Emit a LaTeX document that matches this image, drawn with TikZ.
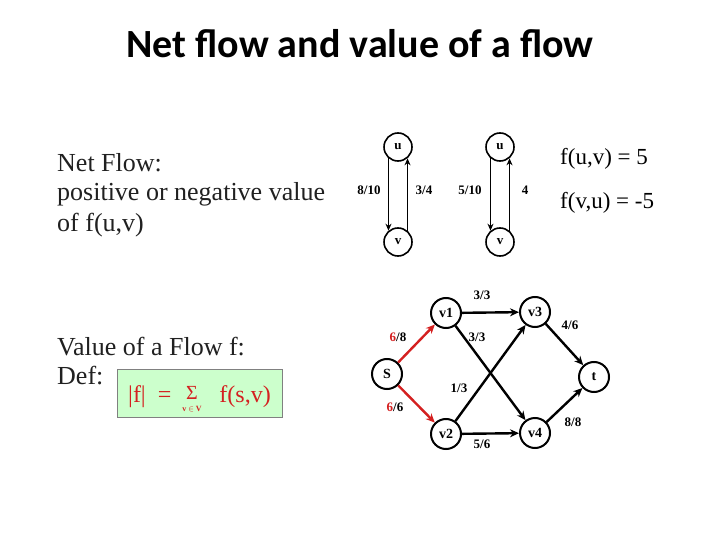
\documentclass[tikz,border=0pt]{standalone}
\usepackage{fontspec}
\setmainfont{Liberation Serif}
\newfontfamily\titlefont{Carlito}
\usetikzlibrary{arrows.meta}
\definecolor{flowred}{HTML}{D42020}
\definecolor{boxgreen}{HTML}{CCFFCC}
\definecolor{txtgray}{HTML}{202020}
\begin{document}
\begin{tikzpicture}[x=1pt,y=-1pt,
  vtx/.style={circle,draw,line width=1.6pt,minimum size=28pt,inner sep=0pt,font=\fontsize{13}{13}\selectfont\bfseries},
  vtxb/.style={vtx,minimum size=30pt,line width=2pt,font=\fontsize{14}{14}\selectfont\bfseries},
  fe/.style={line width=1.6pt,-{Stealth[length=7pt,width=6pt]}},
  ge/.style={line width=2.4pt,-{Stealth[length=9pt,width=8pt]}},
  re/.style={ge,draw=flowred},
  lbl/.style={font=\fontsize{13}{13}\selectfont\bfseries,inner sep=0pt},
  body/.style={anchor=base west,inner sep=0pt,text=txtgray,font=\fontsize{26}{26}\selectfont},
  eq/.style={anchor=base west,inner sep=0pt,font=\fontsize{23}{23}\selectfont}]
\useasboundingbox (0,0) rectangle (720,540);
% title
\node[anchor=base,inner sep=0pt,font=\titlefont\bfseries\fontsize{40}{40}\selectfont] (title) at (360,58) {Net flow and value of a flow};
% left texts
\node[body] (t1) at (57,172) {Net Flow:};
\node[body] (t2) at (57,201) {positive or negative value};
\node[body] (t3) at (57,231) {of f(u,v)};
\node[body] (t4) at (57,355) {Value of a Flow f:};
\node[body] (t5) at (57,384) {Def:};
% green box
\node[draw=gray,fill=boxgreen,line width=0.8pt,minimum width=165pt,minimum height=48pt,inner sep=0pt] (box) at (199.5,393) {};
\node[anchor=base west,inner sep=0pt,text=flowred,font=\fontsize{24}{24}\selectfont] (f1) at (128,402) {|f|\ \ =};
\node[anchor=base,inner sep=0pt,text=flowred,font=\fontsize{20}{20}\selectfont] (sig) at (192,399) {Σ};
\node[anchor=base,inner sep=0pt,text=flowred,font=\fontsize{8}{8}\selectfont\bfseries] (sub) at (192,411) {v $\in$ V};
\node[anchor=base east,inner sep=0pt,text=flowred,font=\fontsize{24}{24}\selectfont] (f2) at (271,402) {f(s,v)};
% graph 1
\node[vtx] (u1) at (398,147) {u};
\node[vtx] (v1g) at (398,242) {v};
\node[vtx] (u2) at (500,147) {u};
\node[vtx] (v2g) at (500,242) {v};
\draw[fe] (u1.-130) -- (v1g.130);
\draw[fe] (v1g.50) -- (u1.-50);
\draw[fe] (u2.-130) -- (v2g.130);
\draw[fe] (v2g.50) -- (u2.-50);
\node[lbl] (l1) at (369,190) {8/10};
\node[lbl] (l2) at (424,190) {3/4};
\node[lbl] (l3) at (470,190) {5/10};
\node[lbl] (l4) at (525,190) {4};
\node[eq] (e1) at (560,165) {f(u,v) = 5};
\node[eq] (e2) at (560,209) {f(v,u) = -5};
% graph 2
\node[vtxb] (s) at (387,374) {S};
\node[vtxb] (a) at (446,313) {v1};
\node[vtxb] (b) at (446,434) {v2};
\node[vtxb] (c) at (535,312) {v3};
\node[vtxb] (d) at (535,433) {v4};
\node[vtxb] (t) at (594,377) {t};
\draw[re] (s) -- (a);
\draw[re] (s) -- (b);
\draw[ge] (a) -- (c);
\draw[ge] (a) -- (d);
\draw[ge] (b) -- (c);
\draw[ge] (b) -- (d);
\draw[ge] (c) -- (t);
\draw[ge] (d) -- (t);
\node[lbl] (m1) at (482,295) {3/3};
\node[lbl] (m2) at (477,337) {3/3};
\node[lbl] (m3) at (570,325) {4/6};
\node[lbl] (m4) at (398,337) {\textcolor{flowred}{6}/8};
\node[lbl] (m5) at (395,407) {\textcolor{flowred}{6}/6};
\node[lbl] (m6) at (459,388) {1/3};
\node[lbl] (m7) at (482,444) {5/6};
\node[lbl] (m8) at (573,422) {8/8};
\end{tikzpicture}
\end{document}
